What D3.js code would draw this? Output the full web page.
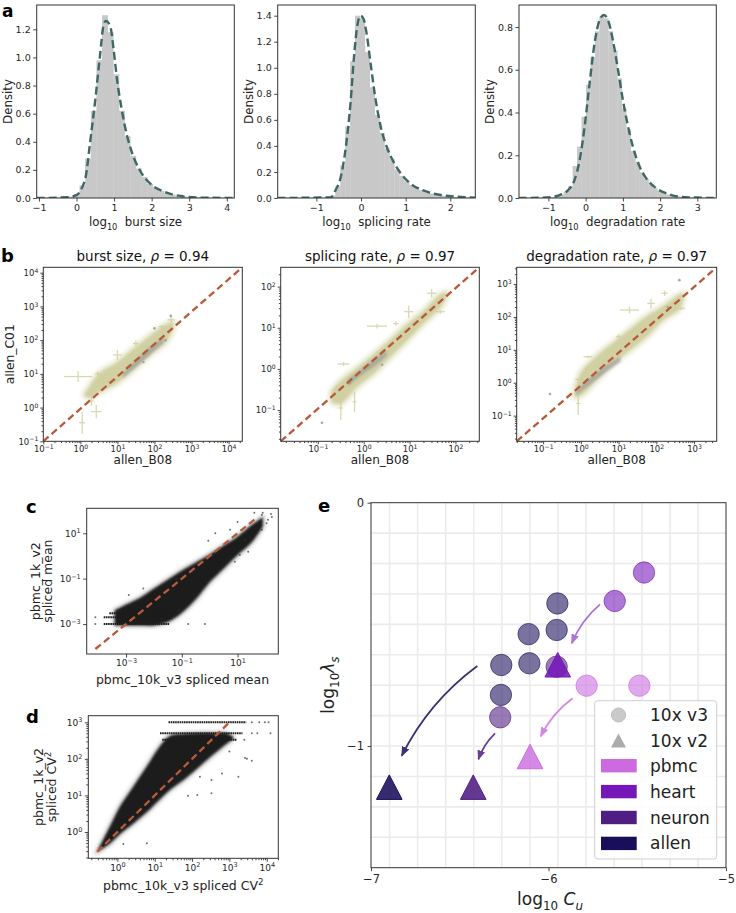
<!DOCTYPE html>
<html><head><meta charset="utf-8">
<script src="https://cdn.jsdelivr.net/npm/d3@7/dist/d3.min.js"></script>
<style>
body{margin:0;background:#fff}
svg{display:block}
text{font-family:"DejaVu Sans",sans-serif;white-space:pre}
</style></head><body>
<svg id="fig" width="736" height="913"></svg>
<script>
// ================= DATA =================
// ---- Panel a: histograms (bin start, bin width, density per bin) and fitted curves [x, density]
const a1Start = -1.12, a1Width = 0.15;
const a1Hist = [0.002,0.002,0.002,0.003,0.004,0.006,0.01,0.03,0.09,0.28,0.62,0.98,1.30,1.18,0.88,0.62,0.44,0.30,0.21,0.15,0.10,0.075,0.05,0.035,0.025,0.016,0.012,0.008,0.005,0.004,0.003,0.002,0.002,0.001,0.001];
const a1Curve = [[-1.06,0],[-0.26,0.005],[0,0.02],[0.14,0.07],[0.26,0.175],[0.35,0.37],[0.5,0.70],[0.62,1.0],[0.72,1.23],[0.78,1.26],[0.90,1.22],[0.99,1.05],[1.08,0.84],[1.19,0.65],[1.33,0.46],[1.48,0.32],[1.70,0.19],[1.97,0.10],[2.33,0.045],[2.77,0.014],[3.3,0.003],[4.2,0]];
const a2Start = -1.784, a2Width = 0.11;
const a2Hist = [0.001,0.001,0.001,0.001,0.001,0.001,0.002,0.002,0.003,0.004,0.02,0.09,0.25,0.55,1.05,1.40,1.38,1.12,0.85,0.64,0.50,0.38,0.30,0.22,0.17,0.13,0.10,0.08,0.06,0.045,0.035,0.027,0.02,0.015,0.011,0.008,0.006,0.004,0.003,0.002];
const a2Curve = [[-1.87,0],[-0.68,0.005],[-0.57,0.06],[-0.455,0.16],[-0.34,0.39],[-0.23,0.75],[-0.157,1.085],[-0.08,1.33],[-0.01,1.40],[0.05,1.38],[0.127,1.26],[0.216,1.03],[0.33,0.75],[0.44,0.55],[0.59,0.38],[0.74,0.27],[0.89,0.19],[1.11,0.11],[1.41,0.056],[1.78,0.023],[2.16,0.01],[2.57,0.003]];
const a3Start = -1.79, a3Width = 0.12;
const a3Hist = [0.001,0.001,0.001,0.001,0.002,0.002,0.003,0.004,0.008,0.015,0.03,0.055,0.15,0.24,0.38,0.53,0.66,0.78,0.85,0.84,0.78,0.69,0.56,0.42,0.32,0.22,0.17,0.12,0.09,0.065,0.045,0.033,0.024,0.017,0.012,0.008,0.006,0.004,0.003,0.002,0.002,0.001,0.001,0.001];
const a3Curve = [[-1.8,0],[-1.06,0.002],[-0.70,0.014],[-0.47,0.037],[-0.30,0.084],[-0.16,0.178],[-0.027,0.334],[0.107,0.537],[0.24,0.724],[0.376,0.833],[0.49,0.856],[0.60,0.833],[0.73,0.74],[0.87,0.60],[1.0,0.459],[1.14,0.334],[1.27,0.24],[1.45,0.147],[1.63,0.092],[1.90,0.045],[2.17,0.022],[2.52,0.006],[2.97,0.002],[3.5,0]];
const aLabels = ["burst size","splicing rate","degradation rate"];

// ---- Panel b: log10 coordinates. Cloud envelope (x, low y, high y), grey core, error-bar outliers [x,y,halfX,halfY]
const bTitles = ["burst size, ", "splicing rate, ", "degradation rate, "];
const bRho = ["0.94","0.97","0.97"];
const b1X  = [0.12, 0.25, 0.52, 0.96, 1.41, 1.86, 2.30, 2.50];
const b1Lo = [0.35, 0.30, 0.47, 0.72, 1.11, 1.56, 1.95, 2.35];
const b1Hi = [0.40, 0.62, 1.02, 1.31, 1.71, 2.10, 2.45, 2.52];
const b1gX  = [1.15, 1.5, 1.9, 2.25];
const b1gLo = [0.88, 1.2, 1.58, 1.92];
const b1gHi = [1.0, 1.42, 1.82, 2.08];
const b1Cross = [[-0.06,0.92,0.38,0.16],[0.05,-0.45,0.08,0.32],[0.43,-0.12,0.14,0.2],[1.0,1.56,0.12,0.15],[0.47,1.0,0.07,0.07],[2.45,2.6,0.1,0.1],[0.6,0.75,0.1,0.12],[1.5,1.9,0.08,0.08],[0.3,0.2,0.06,0.15],[2.2,2.4,0.08,0.06]];
const b1Dots = [[2.44,2.72],[2.0,2.35],[1.7,1.35],[2.3,2.0]];
const b2X  = [-0.70, -0.51, -0.15, 0.21, 0.58, 0.94, 1.30, 1.67, 1.80];
const b2Lo = [-0.80, -0.84, -0.43, -0.11, 0.30, 0.70, 1.11, 1.51, 1.75];
const b2Hi = [-0.55, -0.31, 0.01, 0.34, 0.70, 1.07, 1.39, 1.80, 1.85];
const b2gX  = [-0.35, 0.0, 0.3, 0.5];
const b2gLo = [-0.42, -0.12, 0.12, 0.32];
const b2gHi = [-0.26, 0.04, 0.3, 0.44];
const b2Cross = [[0.29,1.04,0.22,0.06],[0.98,1.39,0.1,0.15],[-0.44,0.12,0.13,0.05],[1.48,1.84,0.1,0.1],[1.67,1.39,0.1,0.05],[-0.5,-0.95,0.05,0.3],[-0.2,-0.8,0.04,0.25],[0.7,1.1,0.06,0.06],[-0.6,-0.5,0.08,0.1]];
const b2Dots = [[-0.91,-1.31],[-0.3,-0.35],[0.4,0.1]];
const b3X  = [-0.16, 0.0, 0.41, 0.85, 1.29, 1.73, 2.17, 2.61, 2.70];
const b3Lo = [-0.42, -0.37, 0.08, 0.59, 0.99, 1.40, 1.91, 2.26, 2.55];
const b3Hi = [-0.30, 0.29, 0.79, 1.20, 1.60, 2.00, 2.31, 2.67, 2.70];
const b3gX  = [-0.12, 0.3, 0.7, 1.05];
const b3gLo = [-0.38, 0.0, 0.35, 0.64];
const b3gHi = [-0.24, 0.2, 0.55, 0.8];
const b3Cross = [[1.29,2.21,0.25,0.1],[1.86,2.41,0.1,0.15],[2.22,2.72,0.08,0.08],[2.66,2.26,0.1,0.05],[0.19,0.79,0.12,0.04],[-0.07,-0.63,0.06,0.35],[0.0,0.1,0.15,0.05],[1.0,1.4,0.07,0.07]];
const b3Dots = [[-0.82,-0.34],[2.61,3.12],[2.3,2.3]];

// ---- Panel c: spliced mean (log10). Dense band envelope, discrete low-count stripes, sparse points
const cX  = [-3.4, -3.0, -2.5, -2.0, -1.5, -1.0, -0.5, 0.0, 0.5, 1.0, 1.5, 1.9];
const cLo = [-3.05,-3.05,-3.05,-3.05,-2.9,-2.5,-1.9,-1.15,-0.55,0.05,0.6,1.3];
const cHi = [-2.4,-2.15,-1.85,-1.45,-1.05,-0.65,-0.3,0.05,0.45,0.85,1.35,1.7];
const cStripeY  = [-3.0, -2.7, -2.52];
const cStripeX0 = [-3.8, -3.8, -3.6];
const cStripeX1 = [-1.45, -1.35, -1.35];
const cPts = [[-4.1,-3.0],[-4.1,-2.7],[-2.38,-1.43],[-2.9,-1.72],[-0.05,0.67],[0.73,1.15],[1.38,0.19],[-0.77,-3.0],[-0.17,-3.0],[2.04,1.44],[2.2,1.85],[1.9,1.9],[0.2,1.0],[1.0,1.5],[1.87,1.81],[2.09,1.59],[2.23,1.72],[1.26,0.70],[1.08,0.04],[1.87,1.15],[-1.2,-1.0],[0.9,-0.25],[-1.1,-2.4],[1.6,1.9]];
// ---- Panel d: spliced CV^2 (log10)
const dX  = [-0.54, -0.2, 0.07, 0.43, 0.79, 1.14, 1.4, 1.8, 2.2, 2.6, 2.9, 3.1];
const dLo = [-0.54, -0.31, -0.05, 0.24, 0.55, 0.9, 1.15, 1.45, 1.8, 2.15, 2.4, 2.55];
const dHi = [-0.54, 0.14, 0.69, 1.24, 1.79, 2.34, 2.62, 2.68, 2.7, 2.7, 2.7, 2.6];
const dStripeY  = [3.0, 2.7, 2.52];
const dStripeX0 = [1.37, 1.14, 1.2];
const dStripeX1 = [3.45, 3.35, 3.2];
const dPts = [[2.21,1.51],[2.52,1.42],[3.24,1.51],[3.47,2.0],[3.6,1.95],[1.89,0.99],[2.52,1.06],[2.14,1.01],[0.79,-0.31],[0.16,-0.33],[3.42,2.02],[3.6,3.0],[3.8,3.0],[4.05,3.0],[3.95,3.0],[3.6,2.7],[3.75,2.7],[4.1,2.7],[3.4,2.52],[3.0,2.2],[2.8,1.6]];

// ---- Panel e: log10 C_u vs log10 lambda_s
const eGroups = ["pbmc","heart","neuron","allen"];
const eColors = ["#cc6ae0","#7517b8","#501e82","#190e5a"];
const eV3Group = ["pbmc","pbmc","heart","heart","neuron","neuron","allen","allen","allen","allen","allen","allen"];
const eV3X = [-5.785,-5.488,-5.462,-5.627,-6.272,-5.954,-5.950,-5.954,-6.112,-6.108,-6.266,-6.268];
const eV3Y = [-0.752,-0.752,-0.287,-0.404,-0.882,-0.674,-0.414,-0.523,-0.540,-0.660,-0.667,-0.790];
const eV2Group = ["pbmc","heart","neuron","allen"];
const eV2X = [-6.104,-5.948,-6.424,-6.897];
const eV2Y = [-1.044,-0.667,-1.170,-1.170];
const eArrowGroup = ["pbmc","heart","neuron","allen"];
const eArrowFrom = [[-5.864,-0.804],[-5.710,-0.418],[-6.301,-0.948],[-6.401,-0.671]];
const eArrowTo   = [[-6.044,-0.960],[-5.869,-0.578],[-6.395,-1.055],[-6.827,-1.040]];
const eGridX = [-6.895,-6.737,-6.579,-6.421,-6.263,-6.105,-5.947,-5.789,-5.631,-5.473,-5.315,-5.157];
const eGridY = [-1.375,-1.25,-1.125,-1.0,-0.875,-0.75,-0.625,-0.5,-0.375,-0.25,-0.125];
const eLegendShapes = ["10x v3","10x v2"];

// ================= DRAWING =================
const svg = d3.select("#fig");
const defs = svg.append("defs");
defs.append("filter").attr("id","soft").append("feGaussianBlur").attr("stdDeviation",0.9);
defs.append("filter").attr("id","halo").append("feGaussianBlur").attr("stdDeviation",2.2);
let clipN = 0;
function clip(r){const id="cl"+(clipN++);defs.append("clipPath").attr("id",id).append("rect").attr("x",r[0]).attr("y",r[1]).attr("width",r[2]-r[0]).attr("height",r[3]-r[1]);return `url(#${id})`;}
function frame(r){svg.append("rect").attr("x",r[0]).attr("y",r[1]).attr("width",r[2]-r[0]).attr("height",r[3]-r[1]).attr("fill","none").attr("stroke","#333").attr("stroke-width",1);}
const minus = s => String(s).replace("-","\u2212");
function rich(t,parts,fs){let cur=0;parts.forEach(p=>{const off=p.sub?0.3*fs:p.sup?-0.42*fs:0;const ts=t.append("tspan").attr("dy",off-cur).text(p.t);if(p.sub||p.sup)ts.attr("font-size",fs*0.7);if(p.it)ts.attr("font-style","italic");cur=off;});return t;}
function axisStyle(g,fs){g.select(".domain").remove();g.selectAll(".tick line").attr("stroke","#333").attr("stroke-width",0.9);g.selectAll(".tick text").attr("fill","#262626").attr("font-size",fs).attr("font-family","DejaVu Sans");}
function logLab(g){g.selectAll(".tick text").each(function(d){const e=Math.round(Math.log10(d));const t=d3.select(this);t.text(null);t.append("tspan").text("10");t.append("tspan").attr("dy","-0.5em").attr("font-size","0.72em").text(minus(e));});}
function minors(lo,hi){const o=[];for(let k=Math.floor(lo);k<Math.ceil(hi);k++)for(let m=2;m<10;m++){const lv=k+Math.log10(m);if(lv>lo&&lv<hi)o.push(m*Math.pow(10,k));}return o;}
function panelLabel(ch,x,y,fs){svg.append("text").attr("x",x).attr("y",y).attr("font-size",fs||18).attr("font-weight","bold").attr("fill","#000").text(ch);}

// ---- a
function histPanel(r,xd,yd,xt,yt,start,width,h,curve,label){
  const x=d3.scaleLinear().domain(xd).range([r[0],r[2]]);
  const y=d3.scaleLinear().domain(yd).range([r[3],r[1]]);
  const g=svg.append("g").attr("clip-path",clip(r));
  g.selectAll("rect").data(h).join("rect")
    .attr("x",(d,i)=>x(start+i*width)).attr("width",(d,i)=>x(start+(i+1)*width)-x(start+i*width)+0.3)
    .attr("y",d=>y(d)).attr("height",d=>y(0)-y(d)).attr("fill","#c8c8c8");
  g.append("path").datum(curve).attr("d",d3.line().x(d=>x(d[0])).y(d=>y(d[1])).curve(d3.curveMonotoneX))
    .attr("fill","none").attr("stroke","#3d6864").attr("stroke-width",2.4).attr("stroke-dasharray","8,4");
  frame(r);
  const gx=svg.append("g").attr("transform",`translate(0,${r[3]})`).call(d3.axisBottom(x).tickValues(xt).tickSize(3.5).tickPadding(2.5).tickFormat(d=>minus(d)));
  axisStyle(gx,9.5);
  const gy=svg.append("g").attr("transform",`translate(${r[0]},0)`).call(d3.axisLeft(y).tickValues(yt).tickSize(3.5).tickPadding(2.5).tickFormat(d3.format(".1f")));
  axisStyle(gy,9.5);
  rich(svg.append("text").attr("x",(r[0]+r[2])/2).attr("y",226).attr("text-anchor","middle").attr("font-size",11.8).attr("fill","#222"),[{t:"log"},{t:"10",sub:true},{t:"  "+label}],11.8);
  svg.append("text").attr("transform",`translate(${r[0]-25},${(r[1]+r[3])/2}) rotate(-90)`).attr("text-anchor","middle").attr("font-size",11.8).attr("fill","#222").text("Density");
}
histPanel([36.7,5,234.3,198],[-1.06,4.2],[0,1.373],[-1,0,1,2,3,4],[0,0.2,0.4,0.6,0.8,1.0,1.2],a1Start,a1Width,a1Hist,a1Curve,aLabels[0]);
histPanel([277.7,5,475.3,198],[-1.866,2.56],[0,1.482],[-1,0,1,2],[0,0.2,0.4,0.6,0.8,1.0,1.2,1.4],a2Start,a2Width,a2Hist,a2Curve,aLabels[1]);
histPanel([519,5,716.3,198],[-1.79,3.51],[0,0.903],[-1,0,1,2,3],[0,0.2,0.4,0.6,0.8],a3Start,a3Width,a3Hist,a3Curve,aLabels[2]);
panelLabel("a",2,17,17);

// ---- b
function bPanel(r,xd,yd,xt,yt,X,Lo,Hi,gX,gLo,gHi,cross,dots,ti,rho,ylab){
  const x=d3.scaleLog().domain(xd.map(v=>Math.pow(10,v))).range([r[0],r[2]]);
  const y=d3.scaleLog().domain(yd.map(v=>Math.pow(10,v))).range([r[3],r[1]]);
  const P=v=>Math.pow(10,v);
  const g=svg.append("g").attr("clip-path",clip(r));
  const area=d3.area().x(d=>x(P(d[0]))).y0(d=>y(P(d[1]))).y1(d=>y(P(d[2]))).curve(d3.curveCatmullRom);
  const cloud=d3.zip(X,Lo,Hi);
  g.append("path").datum(cloud).attr("d",area).attr("fill","#dadab4").attr("stroke","#dadab4").attr("stroke-width",6).attr("opacity",0.7).attr("filter","url(#halo)");
  g.append("path").datum(cloud).attr("d",area).attr("fill","#cdcd9c").attr("opacity",0.85).attr("filter","url(#soft)");
  const cr=g.append("g").attr("stroke","#cfcfa0").attr("stroke-width",1.3).attr("opacity",0.8);
  cross.forEach(c=>{
    cr.append("line").attr("x1",x(P(c[0]-c[2]))).attr("x2",x(P(c[0]+c[2]))).attr("y1",y(P(c[1]))).attr("y2",y(P(c[1])));
    cr.append("line").attr("x1",x(P(c[0]))).attr("x2",x(P(c[0]))).attr("y1",y(P(c[1]-c[3]))).attr("y2",y(P(c[1]+c[3])));
  });
  g.append("path").datum(d3.zip(gX,gLo,gHi)).attr("d",area).attr("fill","#9c9c9c").attr("opacity",0.7).attr("filter","url(#soft)");
  g.selectAll("circle.dot").data(dots).join("circle").attr("class","dot").attr("cx",d=>x(P(d[0]))).attr("cy",d=>y(P(d[1]))).attr("r",1.3).attr("fill","#a5a5a5");
  g.append("line").attr("x1",x(P(xd[0]))).attr("y1",y(P(yd[0]))).attr("x2",x(P(xd[1]))).attr("y2",y(P(yd[1])))
    .attr("stroke","#b85a3a").attr("stroke-width",2.3).attr("stroke-dasharray","7,4");
  frame(r);
  const gx=svg.append("g").attr("transform",`translate(0,${r[3]})`).call(d3.axisBottom(x).tickValues(xt.map(P)).tickSize(3).tickPadding(1.5));
  axisStyle(gx,8.5);logLab(gx);
  const gxm=svg.append("g").attr("transform",`translate(0,${r[3]})`).call(d3.axisBottom(x).tickValues(minors(xd[0],xd[1])).tickSize(1.8).tickFormat(""));
  axisStyle(gxm,8.5);
  const gy=svg.append("g").attr("transform",`translate(${r[0]},0)`).call(d3.axisLeft(y).tickValues(yt.map(P)).tickSize(3).tickPadding(2));
  axisStyle(gy,8.5);logLab(gy);
  const gym=svg.append("g").attr("transform",`translate(${r[0]},0)`).call(d3.axisLeft(y).tickValues(minors(yd[0],yd[1])).tickSize(1.8).tickFormat(""));
  axisStyle(gym,8.5);
  rich(svg.append("text").attr("x",(r[0]+r[2])/2).attr("y",261).attr("text-anchor","middle").attr("font-size",13.5).attr("fill","#111"),[{t:ti},{t:"\u03C1",it:true},{t:" = "+rho}],13.5);
  svg.append("text").attr("x",(r[0]+r[2])/2).attr("y",464).attr("text-anchor","middle").attr("font-size",12).attr("fill","#222").text("allen_B08");
  if(ylab) svg.append("text").attr("transform",`translate(${r[0]-29},${(r[1]+r[3])/2}) rotate(-90)`).attr("text-anchor","middle").attr("font-size",12.3).attr("fill","#222").text(ylab);
}
bPanel([43.3,267.3,242.3,441.3],[-1,4.37],[-1,4.16],[-1,0,1,2,3,4],[-1,0,1,2,3,4],b1X,b1Lo,b1Hi,b1gX,b1gLo,b1gHi,b1Cross,b1Dots,bTitles[0],bRho[0],"allen_C01");
bPanel([280.7,267.3,479.3,441.3],[-1.81,2.52],[-1.76,2.47],[-1,0,1,2],[-1,0,1,2],b2X,b2Lo,b2Hi,b2gX,b2gLo,b2gHi,b2Cross,b2Dots,bTitles[1],bRho[1],null);
bPanel([516.7,267.3,716.7,441.3],[-1.70,3.60],[-1.78,3.51],[-1,0,1,2,3],[-1,0,1,2,3],b3X,b3Lo,b3Hi,b3gX,b3gLo,b3gHi,b3Cross,b3Dots,bTitles[2],bRho[2],null);
panelLabel("b",1,262);

// ---- c, d
function cdPanel(r,xd,yd,xt,yt,X,Lo,Hi,sY,sX0,sX1,pts,diag,withMinor,yl1,yl2Parts,yb,xlParts,xlY){
  const P=v=>Math.pow(10,v);
  const x=d3.scaleLog().domain(xd.map(P)).range([r[0],r[2]]);
  const y=d3.scaleLog().domain(yd.map(P)).range([r[3],r[1]]);
  const g=svg.append("g").attr("clip-path",clip(r));
  const area=d3.area().x(d=>x(P(d[0]))).y0(d=>y(P(d[1]))).y1(d=>y(P(d[2]))).curve(d3.curveCatmullRom);
  const band=d3.zip(X,Lo,Hi);
  g.append("path").datum(band).attr("d",area).attr("fill","#555").attr("stroke","#666").attr("stroke-width",3).attr("opacity",0.55).attr("filter","url(#halo)");
  g.append("path").datum(band).attr("d",area).attr("fill","#1c1c1c").attr("filter","url(#soft)");
  sY.forEach((v,i)=>{
    g.append("line").attr("x1",x(P(sX0[i]))).attr("x2",x(P(sX1[i]))).attr("y1",y(P(v))).attr("y2",y(P(v)))
      .attr("stroke","#1c1c1c").attr("stroke-width",2).attr("stroke-dasharray","1.6,0.6");
  });
  g.selectAll("circle.pt").data(pts).join("circle").attr("class","pt").attr("cx",d=>x(P(d[0]))).attr("cy",d=>y(P(d[1]))).attr("r",1).attr("fill","#333").attr("opacity",0.7);
  g.append("line").attr("x1",x(P(diag[0]))).attr("y1",y(P(diag[0]))).attr("x2",x(P(diag[1]))).attr("y2",y(P(diag[1])))
    .attr("stroke","#b85a3a").attr("stroke-width",2.3).attr("stroke-dasharray","7,4");
  frame(r);
  const gx=svg.append("g").attr("transform",`translate(0,${r[3]})`).call(d3.axisBottom(x).tickValues(xt.map(P)).tickSize(3.5).tickPadding(2.5));
  axisStyle(gx,9);logLab(gx);
  const gy=svg.append("g").attr("transform",`translate(${r[0]},0)`).call(d3.axisLeft(y).tickValues(yt.map(P)).tickSize(3.5).tickPadding(2.5));
  axisStyle(gy,9);logLab(gy);
  if(withMinor){
    const a=svg.append("g").attr("transform",`translate(0,${r[3]})`).call(d3.axisBottom(x).tickValues(minors(xd[0],xd[1])).tickSize(2).tickFormat(""));axisStyle(a,9);
    const b=svg.append("g").attr("transform",`translate(${r[0]},0)`).call(d3.axisLeft(y).tickValues(minors(yd[0],yd[1])).tickSize(2).tickFormat(""));axisStyle(b,9);
  }
  const cy=(r[1]+r[3])/2;
  svg.append("text").attr("transform",`translate(${yb[0]},${cy}) rotate(-90)`).attr("text-anchor","middle").attr("font-size",12.5).attr("fill","#222").text(yl1);
  rich(svg.append("text").attr("transform",`translate(${yb[1]},${cy}) rotate(-90)`).attr("text-anchor","middle").attr("font-size",12.5).attr("fill","#222"),yl2Parts,12.5);
  rich(svg.append("text").attr("x",(r[0]+r[2])/2).attr("y",xlY).attr("text-anchor","middle").attr("font-size",12.5).attr("fill","#222"),xlParts,12.5);
}
cdPanel([86.7,508.3,278.3,654],[-4.41,2.46],[-4.32,2.10],[-3,-1,1],[-3,-1,1],cX,cLo,cHi,cStripeY,cStripeX0,cStripeX1,cPts,[-4.1,1.7],false,
  "pbmc_1k_v2",[{t:"spliced mean"}],[40,52],[{t:"pbmc_10k_v3 spliced mean"}],684);
cdPanel([88.3,715.7,278.3,858.3],[-0.78,4.31],[-0.72,3.18],[0,1,2,3,4],[0,1,2,3],dX,dLo,dHi,dStripeY,dStripeX0,dStripeX1,dPts,[-0.54,3.0],true,
  "pbmc_1k_v2",[{t:"spliced CV"},{t:"2",sup:true}],[43,56],[{t:"pbmc_10k_v3 spliced CV"},{t:"2",sup:true}],890);
panelLabel("c",26,513);
panelLabel("d",26,723);

// ---- e
const er=[371,502.7,726,867.7];
const ex=d3.scaleLinear().domain([-7,-5]).range([er[0],er[2]]);
const ey=d3.scaleLinear().domain([-1.5,0]).range([er[3],er[1]]);
const col=gname=>eColors[eGroups.indexOf(gname)];
const eg=svg.append("g").attr("clip-path",clip(er));
eg.selectAll("line.gx").data(eGridX).join("line").attr("x1",d=>ex(d)).attr("x2",d=>ex(d)).attr("y1",er[1]).attr("y2",er[3]).attr("stroke","#ebebeb").attr("stroke-width",1.6);
eg.selectAll("line.gy").data(eGridY).join("line").attr("y1",d=>ey(d)).attr("y2",d=>ey(d)).attr("x1",er[0]).attr("x2",er[2]).attr("stroke","#ebebeb").attr("stroke-width",1.6);
eGroups.forEach((gname,i)=>{
  defs.append("marker").attr("id","ah"+i).attr("viewBox","0 0 10 8").attr("refX",9).attr("refY",4)
    .attr("markerWidth",10).attr("markerHeight",8).attr("markerUnits","userSpaceOnUse").attr("orient","auto")
    .append("path").attr("d","M0,0 L10,4 L0,8 Z").attr("fill",eColors[i]);
});
const arrowOpacity={pbmc:0.8,heart:0.6,neuron:0.85,allen:0.85};
eArrowGroup.forEach((gname,i)=>{
  const sx=ex(eArrowFrom[i][0]), sy=ey(eArrowFrom[i][1]), tx=ex(eArrowTo[i][0]), ty=ey(eArrowTo[i][1]);
  const dx=tx-sx, dy=ty-sy, rad=0.12;
  const cx=(sx+tx)/2-rad*dy, cy=(sy+ty)/2+rad*dx;
  eg.append("path").attr("d",`M${sx},${sy} Q${cx},${cy} ${tx},${ty}`).attr("fill","none")
    .attr("stroke",col(gname)).attr("stroke-width",1.8).attr("opacity",arrowOpacity[gname])
    .attr("marker-end",`url(#ah${eGroups.indexOf(gname)})`);
});
eg.selectAll("circle.v3").data(d3.range(eV3X.length)).join("circle").attr("class","v3")
  .attr("cx",i=>ex(eV3X[i])).attr("cy",i=>ey(eV3Y[i])).attr("r",10.7)
  .attr("fill",i=>col(eV3Group[i])).attr("fill-opacity",0.58)
  .attr("stroke",i=>col(eV3Group[i])).attr("stroke-opacity",0.6).attr("stroke-width",1);
eg.selectAll("path.v2").data(d3.range(eV2X.length)).join("path").attr("class","v2")
  .attr("d",i=>{const px=ex(eV2X[i]),py=ey(eV2Y[i]);return `M${px},${py-12.5} L${px+12.8},${py+12} L${px-12.8},${py+12} Z`;})
  .attr("fill",i=>col(eV2Group[i])).attr("fill-opacity",i=>eV2Group[i]==="pbmc"?0.8:0.88)
  .attr("stroke",i=>col(eV2Group[i])).attr("stroke-width",1);
frame(er);
const egx=svg.append("g").attr("transform",`translate(0,${er[3]})`).call(d3.axisBottom(ex).tickValues([-7,-6,-5]).tickSize(3.5).tickPadding(3.5).tickFormat(d=>minus(d)));
axisStyle(egx,11.5);
const egy=svg.append("g").attr("transform",`translate(${er[0]},0)`).call(d3.axisLeft(ey).tickValues([0,-1]).tickSize(3.5).tickPadding(3.5).tickFormat(d=>minus(d)));
axisStyle(egy,11.5);
rich(svg.append("text").attr("x",550).attr("y",905).attr("text-anchor","middle").attr("font-size",17).attr("fill","#222"),[{t:"log"},{t:"10",sub:true},{t:" "},{t:"C",it:true},{t:"u",sub:true,it:true}],17);
rich(svg.append("text").attr("transform",`translate(334,${(er[1]+er[3])/2}) rotate(-90)`).attr("text-anchor","middle").attr("font-size",17).attr("fill","#222"),[{t:"log"},{t:"10",sub:true},{t:"\u03BB",it:true},{t:"s",sub:true,it:true}],17);
const lg=svg.append("g");
lg.append("rect").attr("x",594.7).attr("y",700.7).attr("width",122).attr("height",158.3).attr("rx",3)
  .attr("fill","#fff").attr("fill-opacity",0.85).attr("stroke","#cfcfcf").attr("stroke-width",1);
lg.append("circle").attr("cx",618.5).attr("cy",715).attr("r",7).attr("fill","#bdbdbd").attr("fill-opacity",0.8).attr("stroke","#bdbdbd");
lg.append("path").attr("d","M618.5,733.5 L626,747.5 L611,747.5 Z").attr("fill","#9e9e9e").attr("fill-opacity",0.85);
eLegendShapes.forEach((s,i)=>lg.append("text").attr("x",650).attr("y",721+i*25.7).attr("font-size",17).attr("fill","#222").text(s));
eGroups.forEach((gname,i)=>{
  const cyy=765.7+i*25.9;
  lg.append("rect").attr("x",601).attr("y",cyy-6.7).attr("width",35.7).attr("height",13.4).attr("fill",eColors[i]);
  lg.append("text").attr("x",650).attr("y",cyy+6).attr("font-size",17).attr("fill","#222").text(gname);
});
panelLabel("e",318,512);
</script>
</body></html>
